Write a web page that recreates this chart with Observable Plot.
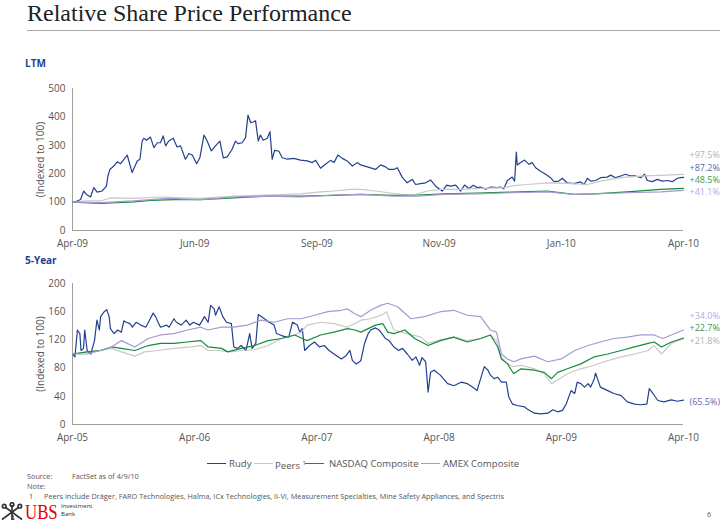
<!DOCTYPE html>
<html><head><meta charset="utf-8">
<script src="https://cdn.jsdelivr.net/npm/d3@7"></script>
<script src="https://cdn.jsdelivr.net/npm/@observablehq/plot@0.6"></script>
<style>
html,body{margin:0;padding:0;background:#fff;}
#page{position:relative;width:720px;height:524px;overflow:hidden;font-family:"Open Sans",sans-serif;color:#555;}
.abs{position:absolute;white-space:nowrap;}
.foot{font-size:7.3px;line-height:8px;color:#555;}
.lg{position:absolute;top:463px;height:0;border-top:1.5px solid;width:19px;}
.lt{position:absolute;top:457px;font-size:9.6px;line-height:13px;color:#555;white-space:nowrap;}
svg.plot{background:transparent;overflow:visible;}
</style></head><body>
<div id="page">
  <div class="abs" style="left:27px;top:1px;font:24px/24px 'Liberation Serif',serif;color:#222">Relative Share Price Performance</div>
  <div class="abs" style="left:27px;top:30px;width:693px;height:1px;background:#aaa"></div>
  <div class="abs" style="left:25px;top:58px;font:bold 10px/10px 'Open Sans',sans-serif;color:#1f3f94">LTM</div>
  <div class="abs" style="left:25px;top:255px;font:bold 10px/10px 'Open Sans',sans-serif;color:#1f3f94">5-Year</div>
  <div id="c1" class="abs" style="left:0;top:78px"></div>
  <div id="c2" class="abs" style="left:0;top:273px"></div>
  <div id="legend"></div>
  <div class="abs foot" style="left:27px;top:471.5px">Source:</div>
  <div class="abs foot" style="left:72px;top:471.5px">FactSet as of 4/9/10</div>
  <div class="abs foot" style="left:27px;top:481.5px">Note:</div>
  <div class="abs foot" style="left:29px;top:491.5px">1</div>
  <div class="abs foot" style="left:44px;top:491.5px">Peers include Dräger, FARO Technologies, Halma, ICx Technologies, II-VI, Measurement Specialties, Mine Safety Appliances, and Spectris</div>
  <svg class="abs" style="left:1px;top:502px" width="22" height="19" viewBox="0 0 22 19">
    <g stroke="#333" stroke-width="1.7" fill="none">
      <line x1="11" y1="3" x2="11" y2="18"/>
      <line x1="4" y1="5" x2="19" y2="16"/>
      <line x1="18" y1="5" x2="3" y2="16"/>
      <circle cx="11" cy="2.5" r="1.8"/>
      <circle cx="3.2" cy="4.2" r="1.8"/>
      <circle cx="18.8" cy="4.2" r="1.8"/>
      <path d="M3 16 l-2 1.5 M19 16 l2 1.5 M11 17 h2.5 M11 14.5 h2"/>
    </g>
  </svg>
  <div class="abs" style="left:25px;top:505px;font:20px/15px 'Liberation Serif',serif;color:#e60000;transform:scaleX(0.84);transform-origin:left top">UBS</div>
  <div class="abs" style="left:61px;top:502.5px;font-size:6px;line-height:6px;color:#333">Investment</div>
  <div class="abs" style="left:61px;top:511px;font-size:6px;line-height:6px;color:#333">Bank</div>
  <div class="abs" style="left:707px;top:511px;font-size:7px;line-height:8px;color:#555">6</div>
</div>
<script>
// ---------- DATA ----------
const seriesNames = ["Rudy", "Peers", "NASDAQ Composite", "AMEX Composite"];
const seriesColors = ["#23408e", "#c8c8c8", "#178a3c", "#a797d3"];
const labelColors = ["#5a6aa5", "#b3b3b3", "#3d9a5a", "#b7aadf"];

// LTM: x = trading day (0 = Apr-09 ... 250 = Apr-10), y = indexed price
const ltmTickDays = [0, 50, 100, 150, 200, 250];
const ltmTickLabels = ["Apr-09", "Jun-09", "Sep-09", "Nov-09", "Jan-10", "Apr-10"];
const ltmYTicks = [0, 100, 200, 300, 400, 500];
const ltmEndLabels = ["+87.2%", "+97.5%", "+48.5%", "+41.1%"];
const ltmRudy = [[0,100],[1.9,104],[3.3,109],[4.6,139],[5.7,127],[7.4,118],[8.7,151],[10.1,135],[12.1,139],[13.9,156],[14.5,192],[15.3,215],[16.9,227],[18.3,242],[19.6,235],[22.4,265],[24.4,204],[26.5,245],[27.6,251],[28.5,315],[29.2,325],[30.3,318],[31.9,329],[33.3,292],[34.7,309],[36.0,309],[37.1,333],[38.1,298],[39.4,315],[41.2,325],[42.8,294],[44.2,298],[46.2,251],[47.6,271],[49.0,266],[50.8,235],[52.1,256],[53.8,336],[55.1,315],[56.8,280],[58.5,298],[60.3,315],[61.7,256],[63.3,259],[65.3,286],[66.7,315],[67.7,306],[69.4,309],[70.8,327],[71.8,406],[72.9,380],[73.9,382],[74.9,386],[76.0,315],[76.9,336],[78.0,318],[79.7,325],[80.8,348],[81.7,251],[82.7,282],[84.4,280],[85.8,256],[87.9,251],[90.6,254],[93.3,248],[96.0,245],[98.1,239],[99.5,247],[101.5,219],[103.5,233],[105.6,247],[107.0,239],[108.6,266],[110.4,254],[112.4,245],[114.5,227],[116.5,239],[117.9,231],[120.6,224],[124.0,215],[126.1,231],[128.1,224],[129.5,215],[131.5,215],[132.9,221],[134.9,188],[136.9,168],[139.0,180],[140.4,162],[142.4,165],[144.5,168],[146.5,178],[148.6,156],[151.3,139],[153.1,160],[154.7,156],[156.8,160],[158.8,139],[160.4,160],[162.2,148],[164.0,159],[165.6,151],[167.0,153],[169.0,145],[171.1,153],[173.8,151],[175.2,153],[176.5,147],[177.9,176],[179.9,188],[180.9,174],[181.6,276],[182.0,231],[183.4,239],[185.0,248],[186.8,233],[188.1,239],[189.5,221],[191.5,209],[193.6,198],[195.6,186],[197.0,172],[199.0,174],[200.4,184],[202.4,168],[205.2,165],[207.9,171],[209.3,162],[210.7,184],[212.0,174],[214.0,176],[216.1,186],[218.8,188],[220.2,195],[222.2,186],[224.3,192],[226.3,198],[228.4,192],[230.4,192],[232.5,186],[234.1,198],[235.2,176],[237.2,172],[239.3,180],[241.3,174],[243.4,176],[245.4,172],[247.5,184],[248.8,186],[250,187.2]];
const ltmPeers = [[0,100],[6.0,104],[11.5,104],[15.6,115],[25.1,113],[36.0,118],[45.6,115],[52.4,113],[66.0,121],[79.7,125],[93.3,129],[101.5,136],[107.0,139],[113.8,145],[117.9,145],[124.0,139],[129.4,133],[134.2,127],[139.7,125],[145.2,139],[150.7,145],[158.8,145],[167.0,148],[176.5,151],[180.6,158],[186.1,162],[194.3,168],[202.4,166],[210.7,162],[216.1,174],[224.3,186],[233.8,192],[240.6,194],[250,197.5]];
const ltmNasdaq = [[0,100],[11.5,95],[25.1,101],[31.9,106],[41.5,109],[52.4,109],[66.0,115],[79.7,121],[93.3,121],[107.0,124],[117.9,127],[131.5,124],[141.1,125],[152.0,129],[165.6,132],[179.3,135],[194.3,139],[205.2,127],[213.4,129],[227.0,136],[240.6,145],[250,148.5]];
const ltmAmex = [[0,100],[11.5,98],[25.1,104],[38.7,113],[52.4,109],[66.0,118],[79.7,121],[93.3,118],[107.0,125],[117.9,127],[131.5,121],[141.1,121],[152.0,127],[165.6,129],[179.3,133],[194.3,136],[205.2,127],[213.4,129],[227.0,133],[240.6,136],[250,141.1]];

// 5-Year: x = years since Apr-05
const fyTickYears = [0, 1, 2, 3, 4, 5];
const fyTickLabels = ["Apr-05", "Apr-06", "Apr-07", "Apr-08", "Apr-09", "Apr-10"];
const fyYTicks = [0, 40, 80, 120, 160, 200];
const fyEndLabels = ["(65.5%)", "+21.8%", "+22.7%", "+34.0%"];
const fyRudy = [[0,100],[0.02,96],[0.04,134],[0.06,129],[0.07,105],[0.09,108],[0.10,134],[0.12,105],[0.15,100],[0.18,119],[0.20,148],[0.22,134],[0.23,153],[0.26,160],[0.28,163],[0.30,153],[0.31,136],[0.34,129],[0.37,134],[0.40,131],[0.42,147],[0.44,145],[0.47,143],[0.49,138],[0.52,145],[0.56,141],[0.60,138],[0.63,148],[0.66,158],[0.68,153],[0.70,145],[0.72,138],[0.77,141],[0.79,138],[0.83,150],[0.85,145],[0.89,141],[0.93,148],[0.96,141],[0.99,145],[1.04,141],[1.08,153],[1.11,145],[1.13,169],[1.16,164],[1.17,155],[1.20,167],[1.23,153],[1.26,145],[1.30,143],[1.32,110],[1.35,108],[1.38,112],[1.42,105],[1.45,129],[1.47,108],[1.50,115],[1.52,156],[1.54,154],[1.57,150],[1.61,145],[1.65,141],[1.67,129],[1.70,127],[1.73,125],[1.77,124],[1.80,145],[1.84,141],[1.86,131],[1.88,136],[1.90,105],[1.94,112],[1.98,117],[2.02,110],[2.06,112],[2.10,105],[2.14,100],[2.20,93],[2.24,98],[2.27,105],[2.29,91],[2.32,86],[2.35,89],[2.36,91],[2.39,115],[2.42,129],[2.44,134],[2.48,137],[2.51,134],[2.54,127],[2.56,122],[2.59,119],[2.63,110],[2.67,105],[2.70,108],[2.74,100],[2.78,91],[2.81,96],[2.84,84],[2.86,95],[2.89,89],[2.91,46],[2.93,74],[2.96,77],[3.01,70],[3.07,58],[3.12,55],[3.18,60],[3.23,58],[3.29,51],[3.31,48],[3.34,65],[3.37,82],[3.40,77],[3.42,70],[3.45,65],[3.48,67],[3.51,60],[3.55,60],[3.57,39],[3.60,29],[3.64,27],[3.70,25],[3.72,22],[3.78,16],[3.83,15],[3.89,16],[3.93,21],[3.97,18],[4.01,20],[4.04,29],[4.08,48],[4.11,44],[4.13,60],[4.16,58],[4.19,53],[4.22,58],[4.24,53],[4.27,65],[4.28,73],[4.30,63],[4.32,53],[4.38,48],[4.43,44],[4.49,41],[4.54,32],[4.60,29],[4.65,28],[4.70,29],[4.72,51],[4.75,44],[4.79,34],[4.84,32],[4.90,35],[4.95,33],[5.00,34.5]];
const fyPeers = [[0,100],[0.12,103],[0.23,105],[0.32,108],[0.40,103],[0.51,97],[0.59,103],[0.70,105],[0.83,108],[0.97,110],[1.05,112],[1.11,105],[1.19,105],[1.30,103],[1.38,105],[1.49,106],[1.60,112],[1.71,122],[1.82,127],[1.87,131],[1.92,141],[2.03,145],[2.14,143],[2.25,138],[2.36,148],[2.44,150],[2.54,156],[2.57,160],[2.63,134],[2.74,129],[2.85,124],[2.91,115],[3.01,120],[3.12,124],[3.23,119],[3.34,122],[3.42,127],[3.47,119],[3.51,96],[3.56,86],[3.61,82],[3.67,84],[3.78,79],[3.86,72],[3.92,58],[3.97,63],[4.05,72],[4.16,79],[4.27,84],[4.35,89],[4.49,96],[4.60,100],[4.71,105],[4.76,112],[4.82,100],[4.90,115],[5.00,121.8]];
const fyNasdaq = [[0,100],[0.12,103],[0.23,105],[0.32,110],[0.40,108],[0.51,105],[0.62,112],[0.72,115],[0.83,115],[0.94,117],[1.05,119],[1.11,110],[1.22,108],[1.27,103],[1.38,108],[1.49,112],[1.60,119],[1.71,122],[1.82,127],[1.88,122],[1.92,119],[2.03,127],[2.14,131],[2.25,136],[2.31,134],[2.36,131],[2.42,136],[2.48,141],[2.54,143],[2.58,131],[2.63,129],[2.72,134],[2.80,122],[2.91,112],[3.01,119],[3.12,124],[3.23,117],[3.34,122],[3.42,127],[3.48,110],[3.51,93],[3.56,86],[3.61,72],[3.67,79],[3.78,77],[3.86,74],[3.92,65],[3.97,74],[4.05,79],[4.16,86],[4.27,96],[4.38,100],[4.49,105],[4.60,110],[4.71,115],[4.76,117],[4.82,110],[4.90,117],[5.00,122.7]];
const fyAmex = [[0,100],[0.12,100],[0.23,105],[0.32,110],[0.40,119],[0.51,110],[0.62,122],[0.72,127],[0.83,129],[0.94,134],[1.05,138],[1.11,134],[1.22,138],[1.32,138],[1.43,141],[1.54,148],[1.65,145],[1.76,150],[1.87,150],[1.98,155],[2.09,160],[2.20,162],[2.25,164],[2.31,157],[2.36,153],[2.44,162],[2.52,169],[2.58,172],[2.66,167],[2.77,150],[2.88,153],[3.01,160],[3.12,162],[3.23,155],[3.34,153],[3.42,134],[3.47,131],[3.51,100],[3.56,93],[3.61,89],[3.67,93],[3.78,97],[3.89,89],[4.00,93],[4.11,105],[4.22,112],[4.32,117],[4.43,122],[4.54,124],[4.65,127],[4.76,127],[4.83,122],[4.90,127],[5.00,134]];

// ---------- CHART ----------
function makeChart({series, endLabels, xTicks, xLabels, yTicks, height, marginTop, marginBottom}) {
  const frameH = height - marginTop - marginBottom;
  const yMin = yTicks[0], yMax = yTicks[yTicks.length - 1];
  const gap = (yMax - yMin) * 12.3 / frameH;
  const ends = series.map((s, i) => {
    const last = s[s.length - 1];
    return {x: last[0], v: last[1], text: endLabels[i], color: labelColors[i]};
  });
  let prev = -Infinity;
  [...ends].sort((a, b) => a.v - b.v).forEach(e => { e.y = Math.max(e.v, prev + gap); prev = e.y; });
  return Plot.plot({
    width: 720, height, marginLeft: 72, marginRight: 37, marginTop, marginBottom,
    style: {fontFamily: "'Open Sans', sans-serif", fontSize: "10px", color: "#555", background: "transparent", overflow: "visible"},
    x: {domain: [xTicks[0], xTicks[xTicks.length - 1]]},
    y: {domain: [yMin, yMax]},
    marks: [
      Plot.axisY({ticks: yTicks, tickSize: 0, tickPadding: 7, label: "(Indexed to 100)", labelAnchor: "center", labelArrow: "none", labelOffset: 36}),
      Plot.axisX({ticks: xTicks, tickSize: 0, tickPadding: 9, tickFormat: d => xLabels[xTicks.indexOf(d)], label: null}),
      Plot.ruleY([yMin], {stroke: "#a0a0a0", strokeWidth: 1}),
      Plot.ruleX([xTicks[0]], {stroke: "#a0a0a0", strokeWidth: 1}),
      ...series.map((s, i) => Plot.line(s, {x: d => d[0], y: d => d[1], stroke: seriesColors[i], strokeWidth: 1.2})),
      Plot.text(ends, {x: "x", y: "y", text: "text", fill: "color", dx: 6, dy: 2, textAnchor: "start", fontSize: 9})
    ]
  });
}

document.getElementById("c1").appendChild(makeChart({
  series: [ltmRudy, ltmPeers, ltmNasdaq, ltmAmex], endLabels: ltmEndLabels,
  xTicks: ltmTickDays, xLabels: ltmTickLabels, yTicks: ltmYTicks,
  height: 178, marginTop: 10, marginBottom: 26
}));
document.getElementById("c2").appendChild(makeChart({
  series: [fyRudy, fyPeers, fyNasdaq, fyAmex], endLabels: fyEndLabels,
  xTicks: fyTickYears, xLabels: fyTickLabels, yTicks: fyYTicks,
  height: 177, marginTop: 10, marginBottom: 26
}));

// ---------- LEGEND ----------
const legendLineX = [207, 254, 305, 421];
const legendTextX = [229, 275, 329, 443];
const legendTexts = ["Rudy", "Peers <sup style='font-size:6px'>1</sup>", "NASDAQ Composite", "AMEX Composite"];
const lg = document.getElementById("legend");
seriesNames.forEach((n, i) => {
  const l = document.createElement("div");
  l.className = "lg"; l.style.left = legendLineX[i] + "px"; l.style.borderTopColor = seriesColors[i];
  lg.appendChild(l);
  const t = document.createElement("div");
  t.className = "lt"; t.style.left = legendTextX[i] + "px"; t.innerHTML = legendTexts[i];
  lg.appendChild(t);
});
</script>
</body></html>
